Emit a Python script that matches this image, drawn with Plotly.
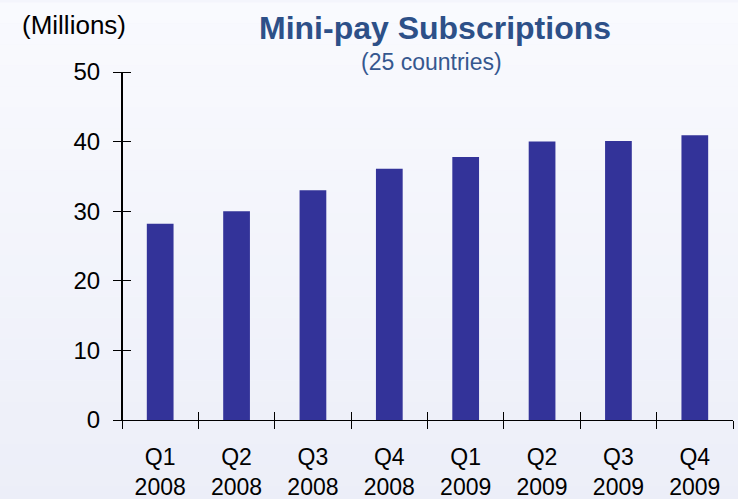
import plotly.graph_objects as go

quarters = ["Q1", "Q2", "Q3", "Q4", "Q1", "Q2", "Q3", "Q4"]
years = ["2008", "2008", "2008", "2008", "2009", "2009", "2009", "2009"]
subscriptions = [28.2, 30.0, 33.0, 36.1, 37.8, 40.0, 40.1, 40.9]
y_ticks = [0, 10, 20, 30, 40, 50]

labels = [f"{q}<br>{y}" for q, y in zip(quarters, years)]
positions = list(range(len(labels)))
boundaries = [p - 0.5 for p in positions] + [positions[-1] + 0.5]

FONT = "Liberation Sans, Arial, sans-serif"
W, H = 738, 499
L, R, T, B = 122, 5, 72, 79
pw, ph = W - L - R, H - T - B


def px(x):
    return (x - L) / pw


def py(y):
    return (H - B - y) / ph


fig = go.Figure()
fig.add_trace(go.Bar(x=positions, y=subscriptions, marker=dict(color="#333399", line=dict(width=0)),
                     width=0.35, showlegend=False))
# invisible helper traces so the overlay axes (other half of crossing ticks) are drawn
fig.add_trace(go.Scatter(x=[positions[0]], y=[subscriptions[0]], xaxis="x2", yaxis="y2", mode="markers",
                         marker=dict(opacity=0), showlegend=False, hoverinfo="skip"))
fig.add_trace(go.Scatter(x=[positions[0]], y=[subscriptions[0]], xaxis="x3", yaxis="y", mode="markers",
                         marker=dict(opacity=0), showlegend=False, hoverinfo="skip"))

# soft vertical gradient background
n = 24
top = (249, 250, 254)
bot = (236, 238, 248)
shapes = []
for i in range(n):
    t = i / (n - 1)
    c = tuple(round(top[k] + (bot[k] - top[k]) * t) for k in range(3))
    shapes.append(dict(type="rect", xref="paper", yref="paper", layer="below",
                       x0=-0.3, x1=1.05, y0=1.2 - (i + 1) * 1.45 / n, y1=1.2 - i * 1.45 / n,
                       fillcolor=f"rgb{c}", line=dict(width=0)))

axis_common = dict(showgrid=False, zeroline=False, showline=True, linecolor="black", linewidth=1,
                   tickcolor="black", ticklen=8, tickwidth=1, automargin=False)

fig.update_layout(
    width=W, height=H,
    margin=dict(l=L, r=R, t=T, b=B, autoexpand=False),
    paper_bgcolor="rgb(244,245,252)",
    plot_bgcolor="rgba(0,0,0,0)",
    font=dict(family=FONT, color="black", size=24),
    shapes=shapes,
    xaxis=dict(axis_common, range=[-0.5, 7.5], tickmode="array", tickvals=positions, ticktext=labels,
               ticks="", tickfont=dict(size=23), ticklabelstandoff=16),
    xaxis2=dict(axis_common, overlaying="x", anchor="y2", side="bottom", range=[-0.5, 7.5],
                tickmode="array", tickvals=boundaries, ticks="inside", showticklabels=False),
    xaxis3=dict(axis_common, overlaying="x", anchor="y", side="bottom", range=[-0.5, 7.5],
                tickmode="array", tickvals=boundaries, ticks="outside", showticklabels=False),
    yaxis=dict(axis_common, range=[0, 50], tickmode="array", tickvals=y_ticks, ticks="outside",
               tickfont=dict(size=24), ticklabelstandoff=8),
    yaxis2=dict(axis_common, overlaying="y", anchor="free", position=0, side="right", range=[0, 50],
                tickmode="array", tickvals=y_ticks, ticks="outside", showticklabels=False),
    annotations=[
        dict(text="<b>Mini-pay Subscriptions</b>", x=px(435), y=py(28), xref="paper", yref="paper",
             showarrow=False, font=dict(size=32, color="#2d5088", family=FONT),
             xanchor="center", yanchor="middle"),
        dict(text="(25 countries)", x=px(431), y=py(62), xref="paper", yref="paper",
             showarrow=False, font=dict(size=23, color="#35578f", family=FONT),
             xanchor="center", yanchor="middle"),
        dict(text="(Millions)", x=px(74), y=py(25), xref="paper", yref="paper",
             showarrow=False, font=dict(size=26, color="black", family=FONT),
             xanchor="center", yanchor="middle"),
    ],
)

fig.write_html("out.html", config={"displayModeBar": False},
               post_script="document.body.style.margin='0';document.body.style.overflow='hidden';")
